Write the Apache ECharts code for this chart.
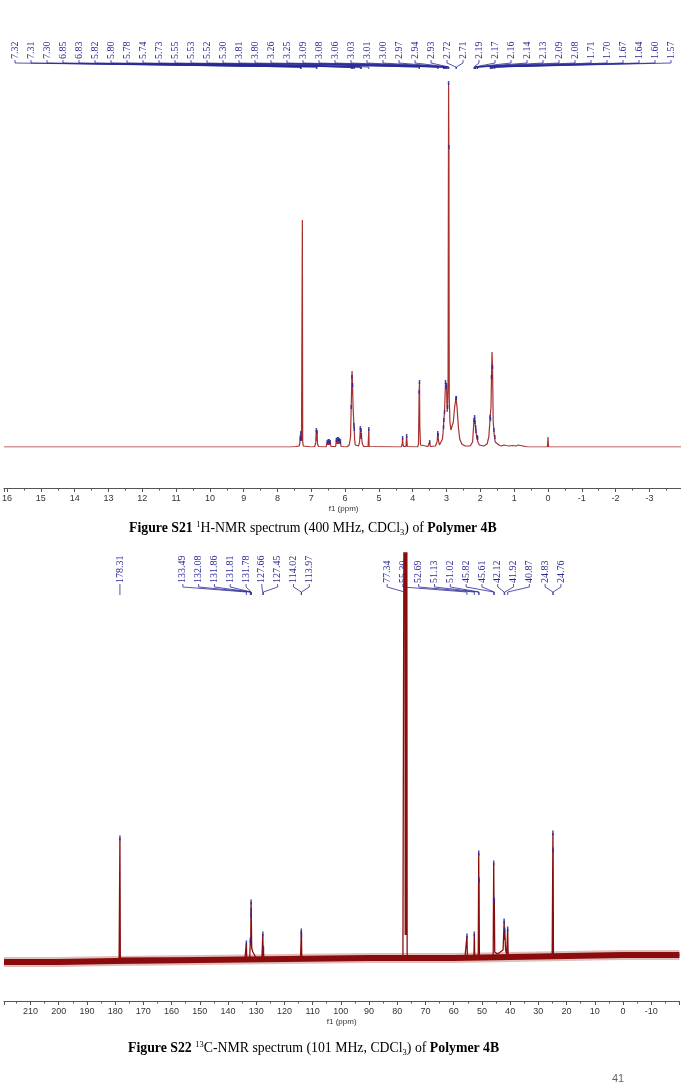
<!DOCTYPE html>
<html>
<head>
<meta charset="utf-8">
<script src="https://cdn.jsdelivr.net/npm/echarts@6/dist/echarts.min.js"></script>
<style>
  html, body { margin: 0; padding: 0; background: #fff; }
  #chart { width: 681px; height: 1082px; }
</style>
</head>
<body>
<div id="chart"></div>
<script>
// 1H trace, [ppm, height above baseline] (2.94 singlet = 364)
const hTrace = [
  [16.09, 0], [7.60, 0], [7.45, 0.5], [7.36, 1], [7.34, 4], [7.33, 12], [7.32, 8], [7.31, 14], [7.30, 9],
  [7.29, 6], [7.275, 8], [7.265, 227], [7.255, 6], [7.24, 1], [7.00, 0],
  [6.90, 0.5], [6.87, 4], [6.855, 17], [6.84, 6], [6.83, 15], [6.815, 3], [6.79, 0.5],
  [6.56, 0], [6.53, 5], [6.515, 2], [6.50, 6], [6.485, 2], [6.47, 6], [6.455, 2], [6.44, 5], [6.42, 0.5],
  [6.28, 0.5], [6.26, 7], [6.245, 3], [6.23, 8], [6.215, 3], [6.20, 8], [6.185, 3], [6.17, 7], [6.155, 3],
  [6.14, 6], [6.12, 0.5], [5.95, 0], [5.88, 2], [5.84, 10], [5.82, 40], [5.80, 70], [5.795, 76], [5.78, 62],
  [5.765, 40], [5.74, 22], [5.73, 18], [5.72, 8], [5.70, 2], [5.66, 0.5],
  [5.60, 1], [5.57, 6], [5.55, 19], [5.54, 8], [5.53, 17], [5.525, 8], [5.52, 12], [5.49, 3], [5.45, 0.5],
  [5.32, 0.5], [5.30, 18], [5.29, 0.5], [4.34, 0], [4.31, 3], [4.30, 9], [4.29, 3], [4.27, 0.5],
  [4.20, 0.5], [4.18, 11], [4.16, 0.5], [3.86, 0], [3.83, 3], [3.81, 55], [3.80, 65], [3.79, 20], [3.77, 2],
  [3.55, 0.5], [3.50, 5], [3.48, 0.5], [3.33, 1], [3.28, 5], [3.26, 14], [3.25, 12], [3.24, 7], [3.21, 2],
  [3.16, 3], [3.12, 8], [3.09, 20], [3.08, 27], [3.07, 25], [3.06, 35], [3.045, 50], [3.03, 65],
  [3.015, 58], [3.01, 60], [3.00, 62], [2.99, 45], [2.98, 35], [2.97, 40], [2.955, 60], [2.94, 364],
  [2.93, 300], [2.92, 50], [2.90, 25], [2.87, 17], [2.84, 17], [2.80, 25], [2.76, 40], [2.72, 49],
  [2.71, 49], [2.69, 40], [2.65, 20], [2.61, 8], [2.55, 3], [2.45, 1], [2.30, 1],
  [2.23, 5], [2.205, 18], [2.19, 27], [2.18, 24], [2.17, 30], [2.16, 25], [2.15, 22], [2.14, 20],
  [2.13, 16], [2.11, 10], [2.09, 10], [2.08, 9], [2.07, 5], [2.03, 2], [1.90, 1], [1.80, 3], [1.75, 10],
  [1.725, 22], [1.71, 30], [1.70, 28], [1.685, 40], [1.67, 70], [1.655, 95], [1.64, 80], [1.63, 55],
  [1.62, 25], [1.60, 17], [1.59, 12], [1.57, 10], [1.56, 5], [1.52, 3], [1.45, 2], [1.38, 1], [1.30, 2],
  [1.27, 4], [1.24, 1.5], [1.15, 1], [1.05, 1.5], [1.00, 2], [0.95, 1], [0.88, 2], [0.84, 1], [0.60, 0],
  [0.02, 0], [0.01, 3], [0.00, 10], [-0.01, 3], [-0.02, 0], [-4, 0]
];
const hLabels = ['7.32', '7.31', '7.30', '6.85', '6.83', '5.82', '5.80', '5.78', '5.74', '5.73', '5.55',
  '5.53', '5.52', '5.30', '3.81', '3.80', '3.26', '3.25', '3.09', '3.08', '3.06', '3.03', '3.01', '3.00',
  '2.97', '2.94', '2.93', '2.72', '2.71', '2.19', '2.17', '2.16', '2.14', '2.13', '2.09', '2.08', '1.71',
  '1.70', '1.67', '1.64', '1.60', '1.57'];
// picked but unlabelled multiplets (blue marks only)
const hExtraPicks = [6.53, 6.50, 6.47, 6.44, 6.26, 6.23, 6.20, 6.17, 6.14, 4.30, 4.18, 3.50];

// 13C trace, [ppm, height above baseline]
const cTrace = [
  [219.4, -2], [178.6, 0], [178.45, 2], [178.31, 122], [178.17, 2], [178.0, 0],
  [134.0, 1], [133.65, 1], [133.49, 17], [133.35, 1], [132.3, 2], [132.08, 20], [131.95, 15], [131.86, 45],
  [131.81, 58], [131.78, 50], [131.6, 12], [131.2, 8], [130.6, 6], [130.0, 2], [128.0, 1], [127.8, 2],
  [127.66, 26], [127.55, 4], [127.45, 12], [127.3, 1], [114.3, 1], [114.1, 3], [114.02, 29], [113.97, 25],
  [113.85, 1], [78.0, 2], [77.55, 3], [77.34, 800], [77.18, 25], [77.02, 800], [76.86, 25], [76.70, 800],
  [76.5, 3], [76.0, 2], [56.0, 3], [55.45, 3], [55.30, 24], [55.15, 3], [52.85, 3], [52.69, 26],
  [52.55, 3], [51.3, 4], [51.13, 107], [51.07, 70], [51.02, 80], [50.9, 4], [46.0, 4], [45.82, 97],
  [45.7, 50], [45.61, 60], [45.45, 8], [44.5, 6], [43.5, 8], [42.5, 10], [42.12, 39], [42.0, 20],
  [41.92, 30], [41.6, 10], [41.2, 6], [40.87, 31], [40.7, 4], [39.5, 3], [25.1, 3], [24.95, 4],
  [24.83, 127], [24.79, 100], [24.76, 110], [24.65, 4], [24.4, 3], [-20, 5]
];
// baseline noise band centre
const cNoise = [[219.4, -2], [200, -2], [180, -1], [150, 0], [120, 1], [90, 2], [60, 2], [40, 3], [20, 4], [0, 5], [-20, 5]];
const cLabels = ['178.31', '133.49', '132.08', '131.86', '131.81', '131.78', '127.66', '127.45', '114.02',
  '113.97', '77.34', '55.30', '52.69', '51.13', '51.02', '45.82', '45.61', '42.12', '41.92', '40.87',
  '24.83', '24.76'];

const traceH = '#a8302e';
const traceC = '#8b0c0c';
const pickBlue = '#2a2a96';
const serif = '"Liberation Serif", "Times New Roman", serif';
const sans = '"Liberation Sans", Arial, sans-serif';

// height of the trace vertex nearest a given shift
function nearestHeight(trace, ppm) {
  let best = trace[0];
  for (const p of trace) {
    if (Math.abs(p[0] - ppm) < Math.abs(best[0] - ppm)) best = p;
  }
  return best[1];
}

const hMarks = hLabels.map(Number).concat(hExtraPicks).map(p => [p, nearestHeight(hTrace, p)]);
const cMarks = cLabels.map(Number).map(p => [p, nearestHeight(cTrace, p)]);

function axisCfg(gridIndex, min, max, interval, offset) {
  return {
    gridIndex, type: 'value', inverse: true, min, max, interval, offset,
    position: 'bottom',
    axisLine: { show: true, onZero: false, lineStyle: { color: '#555', width: 1 } },
    axisTick: { show: true, length: 4, lineStyle: { color: '#555' } },
    minorTick: { show: true, splitNumber: 2, length: 2.5, lineStyle: { color: '#555' } },
    splitLine: { show: false },
    axisLabel: {
      fontFamily: sans, fontSize: 9, color: '#333', margin: 6,
      formatter: v => (v === min || v === max ? '' : String(v))
    },
    name: 'f1 (ppm)', nameLocation: 'middle', nameGap: 17,
    nameTextStyle: { fontFamily: sans, fontSize: 8, color: '#333' }
  };
}

const capSize = 13.8;
const capRich = {
  b: { fontFamily: serif, fontSize: capSize, fontWeight: 'bold', color: '#000' },
  sup: { fontFamily: serif, fontSize: 8.5, color: '#000', verticalAlign: 'top', lineHeight: 17 },
  sub: { fontFamily: serif, fontSize: 8.5, color: '#000', verticalAlign: 'bottom', lineHeight: 17 }
};
const capStyle = { fontFamily: serif, fontSize: capSize, fontWeight: 'normal', color: '#000', lineHeight: 17, rich: capRich };

const chart = echarts.init(document.getElementById('chart'));
chart.setOption({
  animation: false,
  backgroundColor: '#fff',
  title: [
    {
      text: '{b|Figure S21} {sup|1}H-NMR spectrum (400 MHz, CDCl{sub|3}) of {b|Polymer 4B}',
      left: 129, top: 520, padding: 0, textStyle: capStyle
    },
    {
      text: '{b|Figure S22} {sup|13}C-NMR spectrum (101 MHz, CDCl{sub|3}) of {b|Polymer 4B}',
      left: 128, top: 1040, padding: 0, textStyle: capStyle
    },
    {
      text: '41', left: 612, top: 1073, padding: 0,
      textStyle: { fontFamily: sans, fontSize: 11, fontWeight: 'normal', color: '#666' }
    }
  ],
  grid: [
    { left: 4, top: 83, width: 679.2, height: 364, outerBoundsMode: 'none', containLabel: false },
    { left: 4, top: 553, width: 675.4, height: 422, outerBoundsMode: 'none', containLabel: false }
  ],
  xAxis: [
    axisCfg(0, -4, 16.09, 1, 41),
    axisCfg(1, -20, 219.4, 10, 26)
  ],
  yAxis: [
    { gridIndex: 0, type: 'value', min: 0, max: 364, show: false },
    { gridIndex: 1, type: 'value', min: -15, max: 407, show: false }
  ],
  series: [
    {
      type: 'line', xAxisIndex: 0, yAxisIndex: 0, data: hTrace, symbol: 'none', clip: true,
      lineStyle: { color: traceH, width: 1.2 }, z: 3
    },
    {
      type: 'scatter', xAxisIndex: 0, yAxisIndex: 0, data: hMarks, symbol: 'rect',
      symbolSize: [1.5, 4], itemStyle: { color: pickBlue, opacity: 0.85 }, clip: true, z: 4
    },
    {
      type: 'line', xAxisIndex: 1, yAxisIndex: 1, data: cNoise, symbol: 'none', clip: true,
      lineStyle: { color: 'rgba(150, 40, 40, 0.3)', width: 10 }, z: 1
    },
    {
      type: 'line', xAxisIndex: 1, yAxisIndex: 1, data: cNoise, symbol: 'none', clip: true,
      lineStyle: { color: traceC, width: 6 }, z: 2
    },
    {
      type: 'line', xAxisIndex: 1, yAxisIndex: 1, data: cTrace, symbol: 'none', clip: true,
      lineStyle: { color: traceC, width: 1.3 }, z: 3
    },
    {
      type: 'scatter', xAxisIndex: 1, yAxisIndex: 1, data: cMarks, symbol: 'rect',
      symbolSize: [1.5, 5], itemStyle: { color: pickBlue, opacity: 0.85 }, clip: true, z: 4
    }
  ]
});

// spread labels: clusters centred on their peaks, pushed left on overlap, then clamped at the left edge
function spreadLabels(desired, s, minX, maxX) {
  const n = desired.length;
  const clusters = [];
  let cur = [0];
  for (let i = 1; i < n; i++) {
    if (desired[i] - desired[i - 1] < s) cur.push(i);
    else { clusters.push(cur); cur = [i]; }
  }
  clusters.push(cur);
  const pos = new Array(n);
  let limit = maxX;
  for (let c = clusters.length - 1; c >= 0; c--) {
    const idx = clusters[c];
    const mean = idx.reduce((a, i) => a + desired[i], 0) / idx.length;
    let start = mean - (idx.length - 1) * s / 2;
    const end = start + (idx.length - 1) * s;
    if (end > limit) start -= end - limit;
    idx.forEach((i, k) => { pos[i] = start + k * s; });
    limit = start - s;
  }
  for (let i = 0; i < n; i++) {
    const lo = i === 0 ? minX : pos[i - 1] + s;
    if (pos[i] < lo) pos[i] = lo;
  }
  return pos;
}

function labelGraphics(labels, axisIndex, s, minX, maxX, yText, yA, yB, yEnd) {
  const desired = labels.map(t => chart.convertToPixel({ xAxisIndex: axisIndex }, Number(t)));
  const pos = spreadLabels(desired, s, minX, maxX);
  const els = [];
  labels.forEach((t, i) => {
    els.push({
      type: 'text', x: pos[i], y: yText, rotation: Math.PI / 2, silent: true,
      style: {
        text: t, fill: pickBlue, font: '10px ' + serif,
        align: 'left', verticalAlign: 'middle', textAlign: 'left', textVerticalAlign: 'middle'
      }
    });
    els.push({
      type: 'polyline', silent: true,
      shape: { points: [[pos[i], yText + 1], [pos[i], yA], [desired[i], yB], [desired[i], yEnd]] },
      style: { stroke: pickBlue, lineWidth: 0.8, fill: null }
    });
  });
  return els;
}

chart.setOption({
  graphic: [].concat(
    labelGraphics(hLabels, 0, 16, 15, 671, 59, 63, 67, 69),
    labelGraphics(cLabels, 1, 15.8, 10, 675, 583, 587, 592, 595)
  )
});
</script>
</body>
</html>
